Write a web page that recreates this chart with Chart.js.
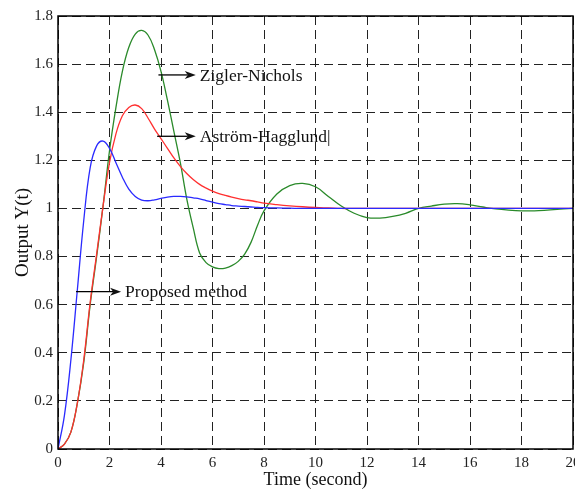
<!DOCTYPE html>
<html>
<head>
<meta charset="utf-8">
<script src="https://cdn.jsdelivr.net/npm/chart.js@4.4.0/dist/chart.umd.min.js"></script>
<style>
  html, body { margin: 0; padding: 0; background: #fff; overflow: hidden; }
  #wrap { width: 600px; height: 496px; }
</style>
</head>
<body>
<div id="wrap"><canvas id="myChart"></canvas></div>
<script>
// time axis (seconds)
const time = [0,0.25,0.5,0.75,1,1.25,1.5,1.75,2,2.25,2.5,2.75,3,3.25,3.5,3.75,4,4.25,4.5,4.75,5,5.25,5.5,5.75,6,6.25,6.5,6.75,7,7.25,7.5,7.75,8,
  8.5,9,9.5,10,10.5,11,11.5,12,12.5,13,13.5,14,14.5,15,15.5,16,16.5,17,17.5,18,18.5,19,19.5,20];

const proposed = [0,0.14,0.37,0.66,0.95,1.17,1.26,1.28,1.25,1.19,1.13,1.08,1.05,1.035,1.032,1.036,1.042,1.047,1.05,1.05,1.048,1.044,1.04,1.033,1.026,1.02,1.016,1.012,1.01,1.008,1.006,1.004,1.003,
  1.002,1.001,1,1,1,1,1,1,1,1,1,1,1,1,1,1,1,1,1,1,1,1,1,1];

const zieglerNichols = [0,0.02,0.07,0.19,0.36,0.6,0.8,1.01,1.24,1.42,1.57,1.67,1.725,1.74,1.72,1.66,1.57,1.45,1.32,1.19,1.04,0.92,0.815,0.775,0.757,0.75,0.752,0.762,0.78,0.81,0.86,0.93,0.99,
  1.06,1.095,1.104,1.09,1.05,1.01,0.98,0.962,0.96,0.967,0.98,1.0,1.01,1.018,1.02,1.015,1.006,0.998,0.993,0.99,0.99,0.993,0.997,1.0];

const astromHagglund = [0,0.02,0.07,0.19,0.37,0.61,0.81,1.01,1.19,1.31,1.385,1.42,1.43,1.415,1.375,1.33,1.29,1.25,1.21,1.175,1.145,1.12,1.1,1.085,1.072,1.062,1.054,1.047,1.041,1.036,1.032,1.027,1.022,
  1.016,1.011,1.007,1.004,1.002,1,1,1,1,1,1,1,1,1,1,1,1,1,1,1,1,1,1,1];

const xTicks = [0,2,4,6,8,10,12,14,16,18,20];
const yTicks = [0,0.2,0.4,0.6,0.8,1,1.2,1.4,1.6,1.8];

// arrow labels, in data units
const notes = [
  { text: 'Zigler-Nichols', from: [3.9, 1.555], to: [5.35, 1.555] },
  { text: 'Aström-Hagglund|', from: [3.85, 1.30], to: [5.35, 1.30] },
  { text: 'Proposed method', from: [0.7, 0.654], to: [2.45, 0.654] }
];

const serif = '"Liberation Serif", "Times New Roman", serif';

const toXY = arr => arr.map((v, i) => ({ x: time[i], y: v }));

const framePlugin = {
  id: 'frame',
  afterDraw(chart) {
    const { ctx, chartArea: a, scales } = chart;
    ctx.save();
    ctx.strokeStyle = '#000';
    ctx.lineWidth = 1.5;
    ctx.strokeRect(a.left, a.top, a.right - a.left, a.bottom - a.top);

    ctx.lineWidth = 1.3;
    ctx.fillStyle = '#111';
    ctx.font = '17.5px ' + serif;
    ctx.textBaseline = 'middle';
    notes.forEach(n => {
      const x1 = scales.x.getPixelForValue(n.from[0]);
      const x2 = scales.x.getPixelForValue(n.to[0]);
      const y = scales.y.getPixelForValue(n.from[1]);
      ctx.beginPath();
      ctx.moveTo(x1, y);
      ctx.lineTo(x2 - 8, y);
      ctx.stroke();
      ctx.beginPath();
      ctx.moveTo(x2, y);
      ctx.lineTo(x2 - 11, y - 4);
      ctx.lineTo(x2 - 8, y);
      ctx.lineTo(x2 - 11, y + 4);
      ctx.closePath();
      ctx.fill();
      ctx.fillText(n.text, x2 + 4, y + 1);
    });
    ctx.restore();
  }
};

const ctx = document.getElementById('myChart').getContext('2d');
const lineStyle = { borderWidth: 1.3, pointRadius: 0, fill: false, tension: 0.4 };

new Chart(ctx, {
  type: 'line',
  data: {
    datasets: [
      Object.assign({ label: 'Proposed method', data: toXY(proposed), borderColor: '#2a2aff' }, lineStyle),
      Object.assign({ label: 'Aström-Hagglund', data: toXY(astromHagglund), borderColor: '#ff3030' }, lineStyle),
      Object.assign({ label: 'Zigler-Nichols', data: toXY(zieglerNichols), borderColor: '#2a8a2a' }, lineStyle)
    ]
  },
  options: {
    responsive: true,
    maintainAspectRatio: false,
    animation: false,
    layout: { padding: { left: 0, right: 27, top: 16, bottom: 0 } },
    plugins: { legend: { display: false }, tooltip: { enabled: false } },
    scales: {
      x: {
        type: 'linear',
        min: 0,
        max: 20,
        afterBuildTicks: s => { s.ticks = xTicks.map(v => ({ value: v })); },
        afterFit: s => { s.height = 47; },
        grid: { color: '#222', lineWidth: 1, drawTicks: false },
        border: { display: false, dash: [9, 5] },
        ticks: { color: '#222', padding: 5, font: { family: serif, size: 15 } },
        title: { display: true, text: 'Time (second)', color: '#111', padding: 5, font: { family: serif, size: 18 } }
      },
      y: {
        min: 0,
        max: 1.8,
        afterBuildTicks: s => { s.ticks = yTicks.map(v => ({ value: v })); },
        afterFit: s => { s.width = 58; },
        grid: { color: '#222', lineWidth: 1, drawTicks: false },
        border: { display: false, dash: [9, 5] },
        ticks: { color: '#222', padding: 5, font: { family: serif, size: 15 }, callback: v => String(+v.toFixed(1)) },
        title: { display: true, text: 'Output Y(t)', color: '#111', padding: 12, font: { family: serif, size: 19 } }
      }
    }
  },
  plugins: [framePlugin]
});
</script>
</body>
</html>
